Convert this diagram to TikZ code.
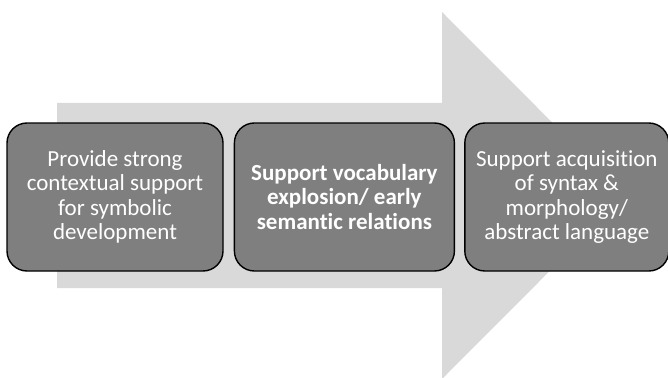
\documentclass[tikz,border=0pt]{standalone}
\usepackage{fontspec}
\setmainfont{Carlito}[Ligatures=NoCommon]
\usetikzlibrary{positioning}
\definecolor{arrowgray}{HTML}{D9D9D9}
\definecolor{boxgray}{HTML}{7F7F7F}
\tikzset{stage/.style={draw=black, line width=1.4pt, fill=boxgray, rounded corners=20pt,
  text=white, align=center, minimum height=148pt, inner sep=2pt,
  font=\fontsize{23}{24.5}\selectfont}}

\begin{document}
\begin{tikzpicture}[x=1pt,y=-1pt]
\useasboundingbox (0,0) rectangle (668,377);
\fill[arrowgray] (57,103) -- (442,103) -- (442,12) -- (625,195.5) -- (442,379) -- (442,288) -- (57,288) -- cycle;
\node[stage, minimum width=216pt] (context) at (115,197) {Provide strong\\contextual support\\for symbolic\\development};
\node[stage, minimum width=220pt, right=10pt of context, font=\fontsize{23}{24.5}\selectfont\bfseries] (vocab) {Support vocabulary\\explosion/ early\\semantic relations};
\node[stage, minimum width=204pt, right=9pt of vocab] (syntax) {Support acquisition\\of syntax \&\\morphology/\\abstract language};
\end{tikzpicture}
\end{document}
